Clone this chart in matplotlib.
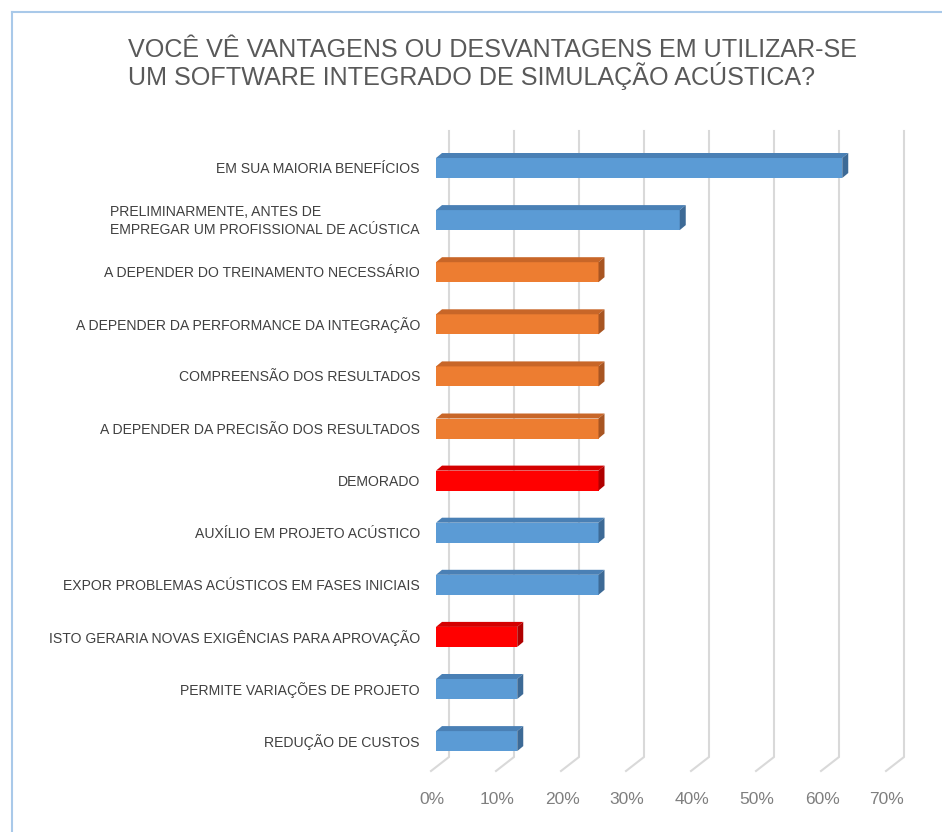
import matplotlib
matplotlib.use('Agg')
from matplotlib import pyplot as plt
from matplotlib.patches import Polygon
from matplotlib.lines import Line2D

plt.rcParams['font.family'] = ['Liberation Sans', 'DejaVu Sans']

title_lines = [
    'VOCÊ VÊ VANTAGENS OU DESVANTAGENS EM UTILIZAR-SE',
    'UM SOFTWARE INTEGRADO DE SIMULAÇÃO ACÚSTICA?',
]
categories = [
    'EM SUA MAIORIA BENEFÍCIOS',
    'PRELIMINARMENTE, ANTES DE\nEMPREGAR UM PROFISSIONAL DE ACÚSTICA',
    'A DEPENDER DO TREINAMENTO NECESSÁRIO',
    'A DEPENDER DA PERFORMANCE DA INTEGRAÇÃO',
    'COMPREENSÃO DOS RESULTADOS',
    'A DEPENDER DA PRECISÃO DOS RESULTADOS',
    'DEMORADO',
    'AUXÍLIO EM PROJETO ACÚSTICO',
    'EXPOR PROBLEMAS ACÚSTICOS EM FASES INICIAIS',
    'ISTO GERARIA NOVAS EXIGÊNCIAS PARA APROVAÇÃO',
    'PERMITE VARIAÇÕES DE PROJETO',
    'REDUÇÃO DE CUSTOS',
]
values = [62.5, 37.5, 25, 25, 25, 25, 25, 25, 25, 12.5, 12.5, 12.5]
groups = ['blue', 'blue', 'orange', 'orange', 'orange', 'orange',
          'red', 'blue', 'blue', 'red', 'blue', 'blue']
ticks = [0, 10, 20, 30, 40, 50, 60, 70]

# front, top, side shades
palette = {
    'blue': ('#5b9bd5', '#4a80b5', '#3d6a96'),
    'orange': ('#ed7d31', '#c86628', '#a85522'),
    'red': ('#ff0000', '#d40000', '#b00000'),
}

W, H = 942, 832
fig = plt.figure(figsize=(W / 100, H / 100), dpi=100)

# pixel geometry of the plot area
x0_px, px_per_pct = 436, 6.5
y0_px, px_per_row = 168, 52.1
L, R, T, B = 420, 915, 120, 800

ax = fig.add_axes([L / W, 1 - B / H, (R - L) / W, (B - T) / H])
ax.set_xlim((L - x0_px) / px_per_pct, (R - x0_px) / px_per_pct)
ax.set_ylim((B - y0_px) / px_per_row, (T - y0_px) / px_per_row)
ax.axis('off')

def dx(p):
    return p / px_per_pct

def dy(p):
    return p / px_per_row

# gridlines on the back wall, with the floor slant at the bottom
grid_top, grid_bot = dy(131 - y0_px), dy(757 - y0_px)
floor_end = dy(771 - y0_px)
for t in ticks:
    xb = t + dx(13)
    ax.plot([xb, xb, xb - dx(18)], [grid_top, grid_bot, floor_end],
            color='#d9d9d9', lw=1.5, zorder=1, solid_joinstyle='miter')

bar_h = dy(20)
ddx, ddy = dx(6), -dy(5)
ys = list(range(len(values)))
fronts = [palette[g][0] for g in groups]
ax.barh(ys, values, height=bar_h, color=fronts, zorder=3)
for y, v, g in zip(ys, values, groups):
    top = y - bar_h / 2
    bot = y + bar_h / 2
    ax.add_patch(Polygon([(0, top), (v, top), (v + ddx, top + ddy), (ddx, top + ddy)],
                         closed=True, color=palette[g][1], zorder=3, lw=0))
    ax.add_patch(Polygon([(v, top), (v + ddx, top + ddy), (v + ddx, bot + ddy), (v, bot)],
                         closed=True, color=palette[g][2], zorder=3, lw=0))

for y, label in zip(ys, categories):
    ax.text(dx(420 - x0_px), y + dy(1), label, ha='right', va='center',
            multialignment='left', fontsize=10.05, color='#404040',
            linespacing=1.3)

for t in ticks:
    ax.text(t - dx(4), dy(799 - y0_px), f'{t}%', ha='center', va='center',
            fontsize=12.5, color='#7f7f7f')

for i, line in enumerate(title_lines):
    fig.text(128 / W, 1 - (57 + 28.5 * i) / H, line, ha='left', va='baseline',
             fontsize=18.05, color='#595959')

# chart frame (left and top edges visible)
fig.add_artist(Line2D([12 / W, 12 / W], [0, 1 - 12 / H], transform=fig.transFigure,
                      color='#a9c9e9', lw=1.5))
fig.add_artist(Line2D([12 / W, 1], [1 - 12 / H, 1 - 12 / H], transform=fig.transFigure,
                      color='#a9c9e9', lw=1.5))

fig.savefig('out.png', dpi=100)
